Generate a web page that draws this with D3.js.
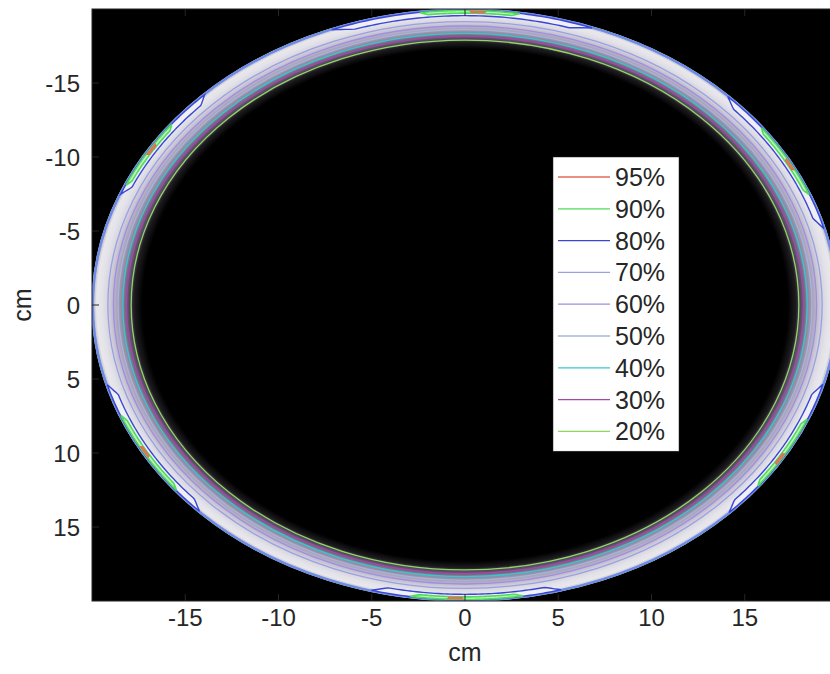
<!DOCTYPE html>
<html lang="en">
<head>
<meta charset="UTF-8">
<title>Dose contours</title>
<script src="https://d3js.org/d3.v7.min.js"></script>
<style>
  body { margin: 0; background: #fff; }
  svg { display: block; font-family: "Liberation Sans", Arial, sans-serif; }
</style>
</head>
<body>
<svg id="chart" width="830" height="674"></svg>
<script>
// tick values (cm)
const xTicks = [-15, -10, -5, 0, 5, 10, 15];
const yTicks = [-15, -10, -5, 0, 5, 10, 15];

// radial dose profile across the ring (radius cm -> relative dose %)
const profileRadius = [0, 17.3, 17.75, 17.9, 18.15, 18.35, 18.6, 18.85, 19.15, 19.45, 19.75, 19.92, 20.0];
const profileDose   = [0, 0, 6, 20, 30, 40, 50, 60, 70, 75, 77, 60, 0];

// contour levels in legend order
const levels = ["95%", "90%", "80%", "70%", "60%", "50%", "40%", "30%", "20%"];
const levelColors = ["#e46a5a", "#4fdc5c", "#3a46d6", "#9aa0e0", "#a08ee0", "#a8b4d8", "#38c8cc", "#a448a8", "#8ed860"];

// full-ring contours: radius on the inner side and on the outer side (cm)
const ringLevels = ["70%", "60%", "50%", "40%", "30%", "20%"];
const ringInner  = [19.15, 18.85, 18.6, 18.35, 18.15, 17.9];
const ringOuter  = [19.93, 19.95, 19.96, 19.97, 19.98, 19.99];

// hot spots near the skin (angles in degrees, 0 = +x, 90 = +y)
const spot80From = [-111, -45, 15.6, 75, 135.6, -157.9];
const spot80To   = [-70, -15, 44.7, 104.6, 164.3, -134.5];
const spot90From = [-97, -37, 22.8, 81, 141, -156];
const spot90To   = [-81.5, -22, 37.9, 98.5, 158, -142.2];
const spot95At   = [-88, -28.6, 31.6, 91.5, 150, -148];

const svg = d3.select("#chart");
const x = d3.scaleLinear().domain([-20, 20]).range([92, 838]);
const y = d3.scaleLinear().domain([-20, 20]).range([9, 601]);
const levelColor = d3.scaleOrdinal().domain(levels).range(levelColors);

const doseColor = d3.scaleLinear()
  .domain([0, 6, 20, 40, 60, 77])
  .range(["#000000", "#1e1c20", "#4a3c54", "#8a82a0", "#bcb8cc", "#e8e8ec"]);

const defs = svg.append("defs");
defs.append("clipPath").attr("id", "plotClip")
  .append("rect")
  .attr("x", x(-20)).attr("y", y(-20))
  .attr("width", x(20) - x(-20)).attr("height", y(20) - y(-20));

const grad = defs.append("radialGradient").attr("id", "doseGrad")
  .attr("cx", 0.5).attr("cy", 0.5).attr("r", 0.5);
grad.selectAll("stop").data(profileRadius).join("stop")
  .attr("offset", d => d / 20)
  .attr("stop-color", (d, i) => doseColor(profileDose[i]));

const plot = svg.append("g").attr("clip-path", "url(#plotClip)");

plot.append("rect")
  .attr("x", x(-20)).attr("y", y(-20))
  .attr("width", x(20) - x(-20)).attr("height", y(20) - y(-20))
  .attr("fill", "#000");

plot.append("ellipse")
  .attr("cx", x(0)).attr("cy", y(0))
  .attr("rx", x(20) - x(0)).attr("ry", y(20) - y(0))
  .attr("fill", "url(#doseGrad)");

// closed contour hugging the skin: inner edge at r0, outer edge at r1,
// inner edge tapers out to r1 at both ends
const rad = Math.PI / 180;
function band(r0, r1, a0, a1) {
  const n = 60;
  const pts = [];
  for (let k = 0; k <= n; k++) {
    const t = k / n;
    const a = (a0 + (a1 - a0) * t) * rad;
    const w = Math.min(1, Math.sin(Math.PI * t) * 4);
    const r = r1 - (r1 - r0) * w;
    pts.push([x(r * Math.cos(a)), y(r * Math.sin(a))]);
  }
  for (let k = n; k >= 0; k--) {
    const a = (a0 + (a1 - a0) * k / n) * rad;
    pts.push([x(r1 * Math.cos(a)), y(r1 * Math.sin(a))]);
  }
  return "M" + pts.join("L") + "Z";
}

// ring contours
ringLevels.forEach((lv, i) => {
  [ringInner[i], ringOuter[i]].forEach(r => {
    plot.append("ellipse")
      .attr("cx", x(0)).attr("cy", y(0))
      .attr("rx", x(r) - x(0)).attr("ry", y(r) - y(0))
      .attr("fill", "none")
      .attr("stroke", levelColor(lv))
      .attr("stroke-width", 1.3);
  });
});

// outer skin edge where all contours crowd together
plot.append("ellipse")
  .attr("cx", x(0)).attr("cy", y(0))
  .attr("rx", x(19.96) - x(0)).attr("ry", y(19.96) - y(0))
  .attr("fill", "none")
  .attr("stroke", "#6e8ae8")
  .attr("stroke-width", 2.4);

// 80% hot spots
plot.selectAll("path.s80").data(spot80From).join("path")
  .attr("class", "s80")
  .attr("d", (d, i) => band(19.55, 19.92, d, spot80To[i]))
  .attr("fill", "#f0f0f4")
  .attr("stroke", levelColor("80%"))
  .attr("stroke-width", 1.4);

// 90% hot spots
plot.selectAll("path.s90").data(spot90From).join("path")
  .attr("class", "s90")
  .attr("d", (d, i) => band(19.72, 19.9, d, spot90To[i]))
  .attr("fill", "#c4f4bc")
  .attr("stroke", levelColor("90%"))
  .attr("stroke-width", 1.6);

// 95% hot spots
plot.selectAll("path.s95").data(spot95At).join("path")
  .attr("class", "s95")
  .attr("d", d => band(19.76, 19.86, d - 1.2, d + 1.2))
  .attr("fill", "#d88a4a")
  .attr("stroke", levelColor("95%"))
  .attr("stroke-width", 1.2);

// axes box and inward ticks
const axisColor = "#262626";
const tickLen = 7;
const axes = svg.append("g");
axes.append("rect")
  .attr("x", x(-20)).attr("y", y(-20))
  .attr("width", x(20) - x(-20)).attr("height", y(20) - y(-20))
  .attr("fill", "none").attr("stroke", axisColor).attr("stroke-width", 1);

axes.selectAll("line.xb").data(xTicks).join("line")
  .attr("class", "xb")
  .attr("x1", d => x(d)).attr("x2", d => x(d))
  .attr("y1", y(20)).attr("y2", y(20) - tickLen)
  .attr("stroke", axisColor);
axes.selectAll("line.xt").data(xTicks).join("line")
  .attr("class", "xt")
  .attr("x1", d => x(d)).attr("x2", d => x(d))
  .attr("y1", y(-20)).attr("y2", y(-20) + tickLen)
  .attr("stroke", axisColor);
axes.selectAll("line.yl").data(yTicks).join("line")
  .attr("class", "yl")
  .attr("x1", x(-20)).attr("x2", x(-20) + tickLen)
  .attr("y1", d => y(d)).attr("y2", d => y(d))
  .attr("stroke", axisColor);

axes.selectAll("text.xl").data(xTicks).join("text")
  .attr("class", "xl")
  .attr("x", d => x(d)).attr("y", 626)
  .attr("text-anchor", "middle")
  .attr("font-size", 24).attr("fill", axisColor)
  .text(d => d);
axes.selectAll("text.ylab").data(yTicks).join("text")
  .attr("class", "ylab")
  .attr("x", 80).attr("y", d => y(d) + 8.5)
  .attr("text-anchor", "end")
  .attr("font-size", 24).attr("fill", axisColor)
  .text(d => d);

svg.append("text")
  .attr("x", x(0)).attr("y", 661)
  .attr("text-anchor", "middle")
  .attr("font-size", 25).attr("fill", axisColor)
  .text("cm");
svg.append("text")
  .attr("transform", `translate(31,${y(0)}) rotate(-90)`)
  .attr("text-anchor", "middle")
  .attr("font-size", 25).attr("fill", axisColor)
  .text("cm");

// legend
const legX = 553, legY = 157, legW = 126, rowH = 31.8;
const legend = svg.append("g");
legend.append("rect")
  .attr("x", legX).attr("y", legY)
  .attr("width", legW).attr("height", rowH * levels.length + 8)
  .attr("fill", "#fff").attr("stroke", axisColor).attr("stroke-width", 0.5);
const rows = legend.selectAll("g").data(levels).join("g")
  .attr("transform", (d, i) => `translate(${legX},${legY + 20 + i * rowH})`);
rows.append("line")
  .attr("x1", 5).attr("x2", 57)
  .attr("stroke", d => levelColor(d)).attr("stroke-width", 1.3);
rows.append("text")
  .attr("x", 62).attr("y", 9)
  .attr("font-size", 25).attr("fill", axisColor)
  .text(d => d);
</script>
</body>
</html>
